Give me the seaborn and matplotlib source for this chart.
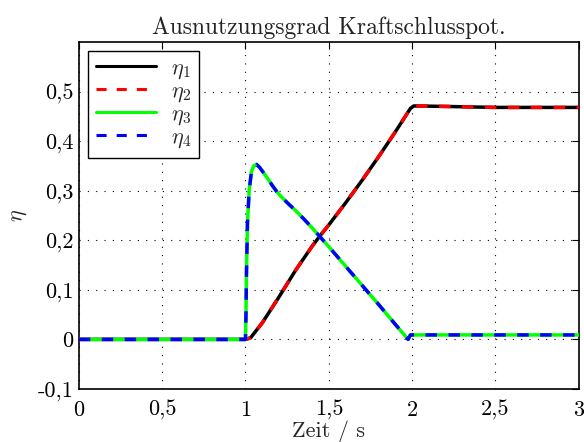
import matplotlib
matplotlib.use("Agg")
import matplotlib.pyplot as plt
import seaborn as sns
import pandas as pd

# --- data ---
t_a = [0.0, 1.0, 1.03, 1.1, 1.2, 1.3, 1.4, 1.45, 1.5, 1.6, 1.7, 1.8, 1.9, 1.99, 2.01, 2.2, 2.5, 3.0]
eta1 = [0.0, 0.0, 0.003, 0.033, 0.085, 0.139, 0.188, 0.21, 0.231, 0.275, 0.321, 0.369, 0.419, 0.466, 0.471, 0.47, 0.468, 0.468]
eta2 = [0.0, 0.0, 0.003, 0.033, 0.085, 0.139, 0.188, 0.21, 0.231, 0.275, 0.321, 0.369, 0.419, 0.466, 0.471, 0.47, 0.468, 0.468]

t_b = [0.0, 1.0, 1.003, 1.006, 1.012, 1.022, 1.036, 1.05, 1.066, 1.085, 1.1, 1.13, 1.16, 1.19, 1.22,
       1.25, 1.3, 1.35, 1.4, 1.5, 1.6, 1.7, 1.8, 1.9, 1.976, 1.99, 3.0]
eta3 = [0.0, 0.0, 0.05, 0.134, 0.235, 0.30, 0.339, 0.35, 0.353, 0.347, 0.340, 0.326, 0.311, 0.297, 0.286,
        0.276, 0.260, 0.243, 0.225, 0.187, 0.148, 0.109, 0.07, 0.03, 0.0, 0.009, 0.009]
eta4 = list(eta3)

xticks = [0, 0.5, 1, 1.5, 2, 2.5, 3]
xticklabels = ["0", "0,5", "1", "1,5", "2", "2,5", "3"]
yticks = [-0.1, 0, 0.1, 0.2, 0.3, 0.4, 0.5]
yticklabels = ["-0,1", "0", "0,1", "0,2", "0,3", "0,4", "0,5"]

sns.set_theme(style="white")
plt.rcParams.update({
    "font.family": ["cmr10", "DejaVu Serif"],
    "mathtext.fontset": "cm",
    "axes.unicode_minus": False,
    "axes.formatter.use_mathtext": True,
    "axes.edgecolor": "black",
    "axes.linewidth": 1.2,
})

fig = plt.figure(figsize=(5.84, 4.42), dpi=100)
ax = fig.add_axes([0.135, 0.12, 0.856, 0.785])

dfa = pd.DataFrame({"t": t_a, "e1": eta1, "e2": eta2})
dfb = pd.DataFrame({"t": t_b, "e3": eta3, "e4": eta4})

lw = 2.5
dash = (0, (3.3, 3.3))
sns.lineplot(data=dfa, x="t", y="e1", ax=ax, color="black", lw=lw, label=r"$\eta_1$", zorder=3)
sns.lineplot(data=dfa, x="t", y="e2", ax=ax, color="red", lw=lw, linestyle=dash, label=r"$\eta_2$", zorder=4)
sns.lineplot(data=dfb, x="t", y="e3", ax=ax, color="#00ff00", lw=lw, label=r"$\eta_3$", zorder=5)
sns.lineplot(data=dfb, x="t", y="e4", ax=ax, color="blue", lw=lw, linestyle=dash, label=r"$\eta_4$", zorder=6)

ax.set_xlim(0, 3)
ax.set_ylim(-0.1, 0.6)
ax.set_xticks(xticks)
ax.set_xticklabels(xticklabels)
ax.set_yticks(yticks)
ax.set_yticklabels(yticklabels)
ax.tick_params(direction="in", top=True, right=True, length=5, width=0.8, labelsize=16, colors="black")
ax.tick_params(axis="x", pad=8)
ax.tick_params(axis="y", pad=4)
ax.grid(True, linestyle=(0, (1, 6.5)), color="black", linewidth=0.8)

ax.set_title("Ausnutzungsgrad Kraftschlusspot.", fontsize=17, color="#222222", pad=6)
ax.set_xlabel("Zeit / s", fontsize=16, labelpad=0)
ax.set_ylabel(r"$\eta$", fontsize=16, labelpad=6)

leg = ax.legend(loc="upper left", fontsize=16, frameon=True, fancybox=False,
                edgecolor="black", framealpha=1, handlelength=2.7, handletextpad=0.7,
                borderaxespad=0.4, borderpad=0.35, labelspacing=0.0)
leg.get_frame().set_linewidth(1.0)
for h in leg.get_lines():
    h.set_linewidth(2.2)

fig.savefig("out.png", dpi=100)
